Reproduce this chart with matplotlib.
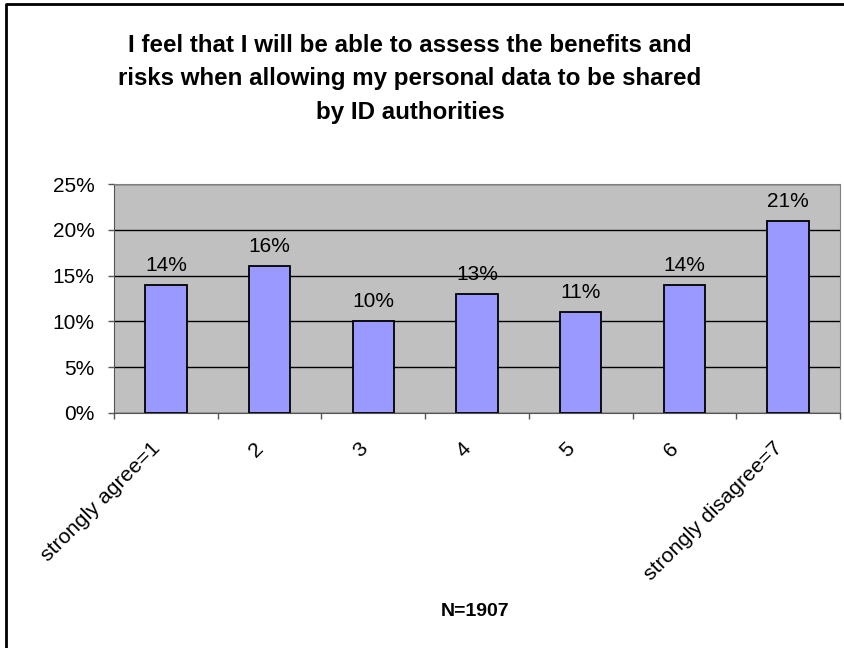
import matplotlib.pyplot as plt
from matplotlib.lines import Line2D
import numpy as np

# Survey data
categories = ['strongly agree=1', '2', '3', '4', '5', '6', 'strongly disagree=7']
shares = [14, 16, 10, 13, 11, 14, 21]
y_ticks = [0, 5, 10, 15, 20, 25]
title = ('I feel that I will be able to assess the benefits and\n'
         'risks when allowing my personal data to be shared\n'
         'by ID authorities')
note = 'N=1907'

plt.rcParams['font.family'] = ['Liberation Sans', 'DejaVu Sans']

fig = plt.figure(figsize=(8.45, 6.48), dpi=100)
W, H = 845, 648
ax = fig.add_axes([114 / W, 1 - 413 / H, (840 - 114) / W, (413 - 184) / H])

x = np.arange(len(categories))
ax.set_facecolor('#C0C0C0')
ax.bar(x, shares, width=0.4, color='#9999FF', edgecolor='black', linewidth=1.3, zorder=3)

for xi, v in zip(x, shares):
    ax.text(xi, v + 1.1, f'{v}%', ha='center', va='bottom', fontsize=15)

ax.set_xlim(-0.5, len(categories) - 0.5)
ax.set_ylim(0, 25)
ax.set_yticks(y_ticks)
ax.set_yticklabels([f'{t}%' for t in y_ticks], fontsize=15)
ax.yaxis.grid(True, color='black', linewidth=1)
ax.set_axisbelow(True)

# category boundaries carry the tick marks
ax.set_xticks(np.arange(len(categories) + 1) - 0.5)
ax.set_xticklabels([])
ax.tick_params(axis='x', length=4.5, width=1, color='#555555')
ax.tick_params(axis='y', length=4.5, width=1, color='#555555', pad=9.5)
for xi, lab in zip(x, categories):
    ax.text(xi - 0.15, -2.8, lab, rotation=45, ha='right', va='top',
            rotation_mode='anchor', fontsize=15.4)

for s in ['top', 'right']:
    ax.spines[s].set_color('#808080')
for s in ['left', 'bottom']:
    ax.spines[s].set_color('#555555')

fig.text(410 / W, 1 - 79 / H, title, ha='center', va='center', fontsize=17.4,
         fontweight='bold', linespacing=1.6)
fig.text(475 / W, 1 - 612 / H, note, ha='center', va='center', fontsize=14,
         fontweight='bold')

# outer chart border (only top and left edges are visible)
fig.lines.append(Line2D([6 / W, 6 / W, 1.0], [0.0, 1 - 4 / H, 1 - 4 / H],
                        transform=fig.transFigure, color='black', linewidth=2))

fig.savefig('out.png', dpi=100)
